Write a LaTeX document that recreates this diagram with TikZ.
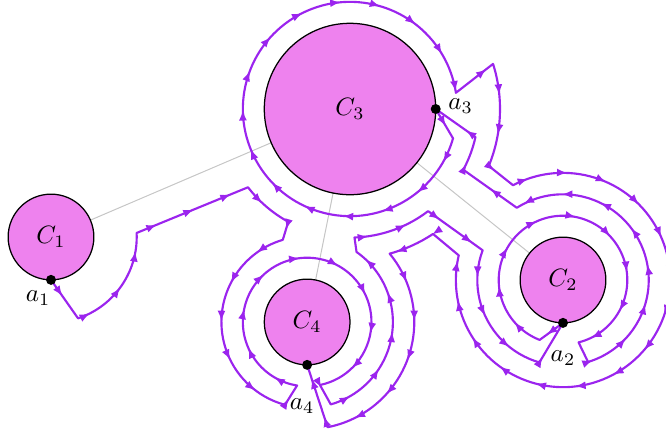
\documentclass[tikz,border=0pt]{standalone}
\usetikzlibrary{calc,decorations.markings,arrows.meta}
\definecolor{circfill}{RGB}{238,130,238}
\definecolor{pathcol}{RGB}{155,36,238}
\tikzset{
  hole/.style={circle, draw=black, fill=circfill, inner sep=0pt, outer sep=0pt, line width=0.5pt},
  smallhole/.style={hole, minimum size=1.2cm},
  bighole/.style={hole, minimum size=2.4cm},
  link/.style={gray!45, line width=0.4pt},
  loopway/.style={pathcol, line width=0.85pt, line join=round, postaction={decorate},
    decoration={markings, mark=between positions 0.28cm and 1 step 0.56cm with {\arrow{Latex[length=4.2pt,width=3.2pt]}}}},
  basept/.style={circle, fill=black, inner sep=0pt, minimum size=0.14cm},
}
\begin{document}
\begin{tikzpicture}
\useasboundingbox (0,0) rectangle (9.324,6.062);
% centres of the four holes
\coordinate (o1) at (0.714,2.744);
\coordinate (o3) at (4.9,4.536);
\coordinate (o4) at (4.3,1.554);
\coordinate (o2) at (7.882,2.142);
% centre links
\draw[link] (o1) -- (o3);
\draw[link] (o3) -- (o4);
\draw[link] (o3) -- (o2);
% holes
\node[smallhole] (C1) at (o1) {$C_1$};
\node[bighole]   (C3) at (o3) {$C_3$};
\node[smallhole] (C4) at (o4) {$C_4$};
\node[smallhole] (C2) at (o2) {$C_2$};
% base points
\coordinate (a1) at (C1.south);
\coordinate (a2) at (C2.south);
\coordinate (a3) at (C3.east);
\coordinate (a4) at (C4.south);
% path a1 -> a2
\draw[loopway] (a1)
  -- ($(o1)+(-71.6:1.2)$) arc[start angle=-71.6, end angle=2.7, radius=1.2]
  -- ($(o3)+(-142.5:1.8)$) arc[start angle=-142.5, end angle=-118.7, radius=1.8]
  -- ($(o4)+(106.5:1.2)$) arc[start angle=106.5, end angle=255, radius=1.2]
  -- ($(o4)+(261:0.9)$) arc[start angle=261, end angle=-78.5, radius=0.9]
  -- ($(o4)+(-74:1.2)$) arc[start angle=-74, end angle=54.8, radius=1.2]
  -- ($(o3)+(-88:1.8)$) arc[start angle=-88, end angle=-52.6, radius=1.8]
  -- ($(o2)+(159.7:1.2)$) arc[start angle=159.7, end angle=254, radius=1.2]
  -- (a2);
% path a2 -> a3
\draw[loopway] (a2)
  -- ($(o2)+(248.7:0.9)$) arc[start angle=248.7, end angle=-76, radius=0.9]
  -- ($(o2)+(-73:1.2)$) arc[start angle=-73, end angle=122.6, radius=1.2]
  -- ($(o3)+(-28.2:1.8)$) arc[start angle=-28.2, end angle=-12.6, radius=1.8]
  -- (a3);
% path a3 -> a4
\draw[loopway] (a3)
  -- ($(o3)+(-15.9:1.5)$) arc[start angle=-15.9, end angle=-351.3, radius=1.5]
  -- ($(o3)+(17.5:2.1)$) arc[start angle=17.5, end angle=-22.3, radius=2.1]
  -- ($(o2)+(117.8:1.5)$) arc[start angle=117.8, end angle=-193.3, radius=1.5]
  -- ($(o3)+(-56.4:2.1)$) arc[start angle=-56.4, end angle=-74.7, radius=2.1]
  -- ($(o4)+(39.6:1.5)$) arc[start angle=39.6, end angle=-79, radius=1.5]
  -- (a4);
% base point dots and labels
\node[basept] (d1) at (a1) {};
\node[basept] (d2) at (a2) {};
\node[basept] (d3) at (a3) {};
\node[basept] (d4) at (a4) {};
\node (la1) at ($(a1)+(-0.18,-0.26)$) {$a_1$};
\node (la2) at ($(a2)+(0,-0.49)$) {$a_2$};
\node (la3) at ($(a3)+(0.35,0.04)$) {$a_3$};
\node (la4) at ($(a4)+(-0.07,-0.58)$) {$a_4$};
\end{tikzpicture}
\end{document}
